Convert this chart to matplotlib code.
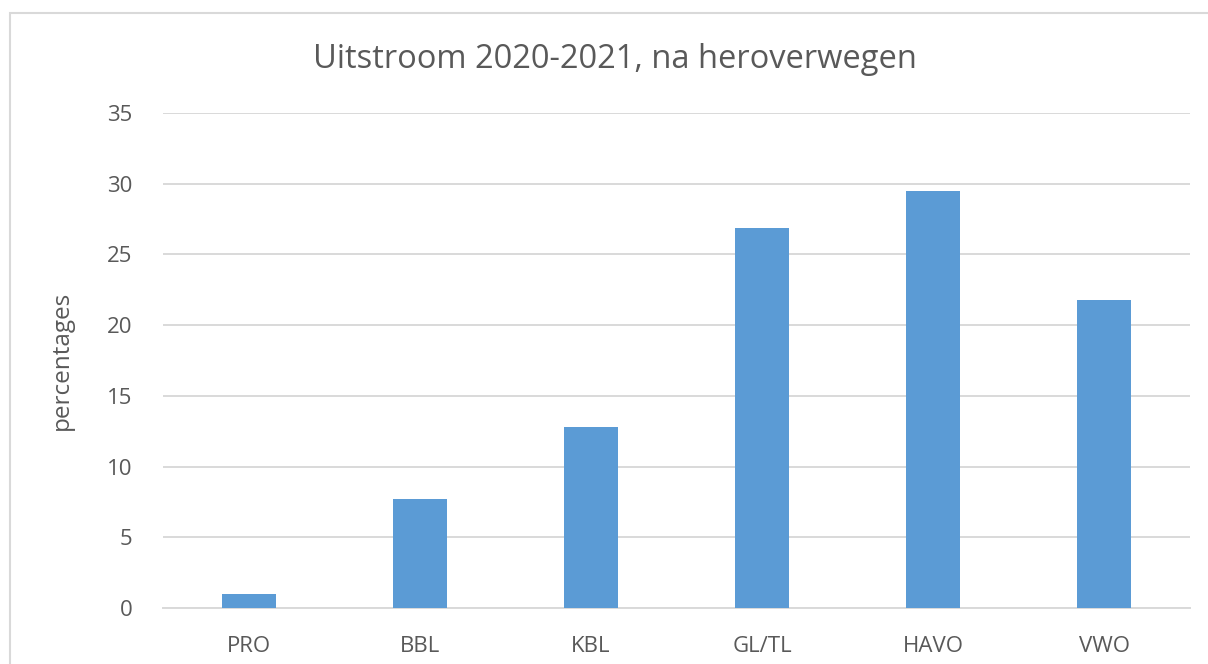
import matplotlib
matplotlib.use("Agg")
import matplotlib.pyplot as plt
from matplotlib.patches import Rectangle

categories = ["PRO", "BBL", "KBL", "GL/TL", "HAVO", "VWO"]
values = [1.0, 7.7, 12.8, 26.9, 29.5, 21.8]
yticks = [0, 5, 10, 15, 20, 25, 30, 35]

plt.rcParams["font.family"] = ["Open Sans", "DejaVu Sans"]
text_col = "#595959"
grid_col = "#D9D9D9"

fig = plt.figure(figsize=(12.08, 6.64), dpi=100)
ax = fig.add_axes([163/1208, 1-608/664, (1190-163)/1208, (608-113)/664])

# outer chart border (only top/left visible in the crop)
fig.patches.append(Rectangle((10/1208, -0.1), 1.2, 1-13/664+0.1, transform=fig.transFigure,
                             fill=False, edgecolor=grid_col, linewidth=1.5, zorder=0))

x = range(len(categories))
ax.bar(x, values, width=0.315, color="#5B9BD5", zorder=3)

ax.set_xlim(-0.5, len(categories)-0.5)
ax.set_ylim(0, 35)
ax.set_yticks(yticks)
ax.set_xticks(list(x))
ax.set_xticklabels(categories)
ax.yaxis.grid(True, color=grid_col, linewidth=1.4, zorder=0)
ax.set_axisbelow(True)
for s in ["top", "right", "left"]:
    ax.spines[s].set_visible(False)
ax.spines["bottom"].set_color(grid_col)
ax.spines["bottom"].set_linewidth(1.4)
ax.tick_params(length=0, labelsize=16, colors=text_col)
ax.tick_params(axis="y", pad=22)
ax.tick_params(axis="x", pad=20)

ax.set_ylabel("percentages", fontsize=17.5, color=text_col)
ax.yaxis.set_label_coords(-0.087, 0.5)
fig.text(615/1208, 1-60/664, "Uitstroom 2020-2021, na heroverwegen", ha="center", va="center",
         fontsize=23.5, color=text_col)

fig.savefig("out.png", dpi=100)
